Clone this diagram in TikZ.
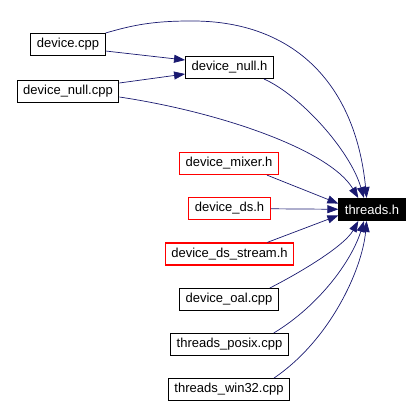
\documentclass[tikz,border=0pt]{standalone}
\usepackage{fontspec}
\setmainfont{Liberation Sans}
\definecolor{edgeblue}{HTML}{191970}
\definecolor{boxred}{HTML}{FF0000}
\usetikzlibrary{arrows.meta}

\begin{document}
\begin{tikzpicture}[x=1pt,y=-1pt,
  file/.style={draw=black,fill=white,line width=1pt,minimum height=22pt,inner xsep=6pt,inner ysep=0pt,font=\fontsize{13}{15}\selectfont},
  redfile/.style={file,draw=boxred,line width=1.2pt},
  mainfile/.style={file,fill=black,text=white},
  dep/.style={edgeblue,line width=0.7pt,-{Triangle[length=11pt,width=8pt]}}]
\useasboundingbox (0,0) rectangle (420,407);
% files
\node[file](dcpp) at (68,44.5){device.cpp};
\node[file](dnullh) at (229.5,67.5){device\_null.h};
\node[file](dnullcpp) at (68,91.5){device\_null.cpp};
\node[redfile](dmixer) at (229,163.5){device\_mixer.h};
\node[redfile](dds) at (229.5,208.5){device\_ds.h};
\node[redfile](dsstream) at (229.5,254){device\_ds\_stream.h};
\node[file](doal) at (229,299.5){device\_oal.cpp};
\node[file](tposix) at (229.5,344.5){threads\_posix.cpp};
\node[file](twin) at (229,389.5){threads\_win32.cpp};
\node[mainfile](th) at (372,209.5){threads.h};
% includes
\draw[dep](dcpp.north east)..controls(130,26)and(150,21)..(190,21)
  ..controls(290,20)and(355,80)..(th.115);
\draw[dep](dcpp.east|-0,51)--(dnullh.west|-0,60);
\draw[dep](dnullcpp.east|-0,83)--(dnullh.west|-0,74);
\draw[dep]([xshift=-10pt]dnullh.south east)..controls(300,95)and(350,150)..(th.125);
\draw[dep](dnullcpp.east|-0,97)..controls(220,112)and(330,150)..(th.140);
\draw[dep]([xshift=-12pt]dmixer.south east)--(th.170);
\draw[dep](dds)--(th);
\draw[dep]([xshift=-27pt]dsstream.north east)--(th.190);
\draw[dep]([xshift=-9pt]doal.north east)..controls(305,270)and(345,245)..(th.220);
\draw[dep]([xshift=-15pt]tposix.north east)..controls(320,305)and(352,260)..(th.235);
\draw[dep]([xshift=-16pt]twin.north east)..controls(330,340)and(362,270)..(th.245);
\end{tikzpicture}
\end{document}
